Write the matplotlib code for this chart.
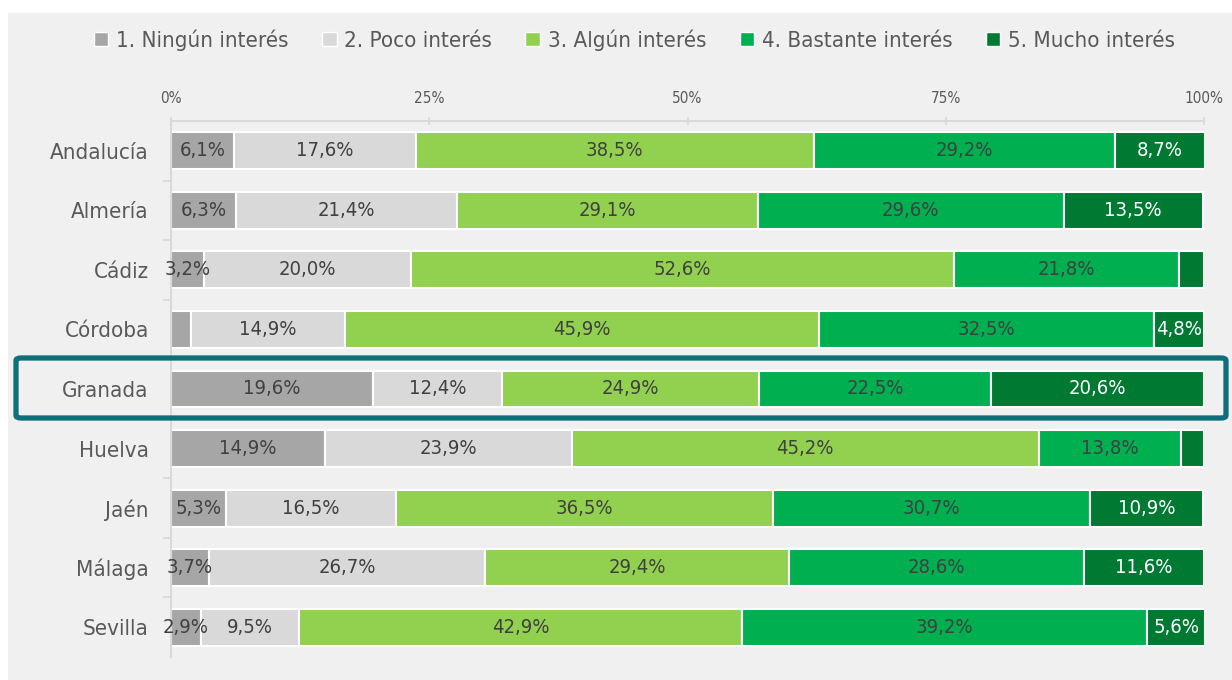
import numpy as np
import matplotlib.pyplot as plt
from matplotlib.patches import Patch, Rectangle, FancyBboxPatch

plt.rcParams['font.family'] = ['DejaVu Sans']
plt.rcParams['font.stretch'] = 'condensed'

regions = ["Andalucía", "Almería", "Cádiz", "Córdoba", "Granada",
           "Huelva", "Jaén", "Málaga", "Sevilla"]
series = ["1. Ningún interés", "2. Poco interés", "3. Algún interés",
          "4. Bastante interés", "5. Mucho interés"]
ningun   = [6.1, 6.3, 3.2, 1.9, 19.6, 14.9, 5.3, 3.7, 2.9]
poco     = [17.6, 21.4, 20.0, 14.9, 12.4, 23.9, 16.5, 26.7, 9.5]
algun    = [38.5, 29.1, 52.6, 45.9, 24.9, 45.2, 36.5, 29.4, 42.9]
bastante = [29.2, 29.6, 21.8, 32.5, 22.5, 13.8, 30.7, 28.6, 39.2]
mucho    = [8.7, 13.5, 2.4, 4.8, 20.6, 2.2, 10.9, 11.6, 5.6]

colors = ["#a6a6a6", "#d9d9d9", "#92d050", "#00b050", "#007a33"]
text_colors = ["#404040", "#404040", "#404040", "#404040", "white"]
bg = "#f0f0f0"

fig = plt.figure(figsize=(12.32, 6.8), dpi=100, facecolor="white")
fig.patches.append(Rectangle((8 / 1232, 0), 1 - 8 / 1232, 1 - 13 / 680,
                             transform=fig.transFigure, facecolor=bg,
                             edgecolor="none", zorder=-10))
ax = fig.add_axes([171 / 1232, 1 - 657 / 680, (1204 - 171) / 1232, (657 - 121) / 680])
ax.set_facecolor("none")

data = np.array([ningun, poco, algun, bastante, mucho])
y = np.arange(len(regions))
left = np.zeros(len(regions))
for i, vals in enumerate(data):
    ax.barh(y, vals, left=left, height=0.62, color=colors[i],
            edgecolor="white", linewidth=1.5, zorder=2)
    for j, v in enumerate(vals):
        if v >= 2.5:
            ax.text(left[j] + v / 2, y[j], ("%.1f%%" % v).replace(".", ","),
                    ha="center", va="center", fontsize=14.5,
                    color=text_colors[i], zorder=3)
    left += vals

ax.set_xlim(0, 100)
ax.set_ylim(len(regions) - 0.5, -0.5)
ax.xaxis.tick_top()
ax.set_xticks([0, 25, 50, 75, 100])
ax.set_xticklabels(["0%", "25%", "50%", "75%", "100%"])
ax.tick_params(axis="x", colors="#d9d9d9", labelcolor="#595959",
               labelsize=11, length=6, direction="inout", width=1.2, pad=8)
ax.set_yticks(y)
ax.set_yticklabels(regions)
ax.set_yticks(np.arange(len(regions) - 1) + 0.5, minor=True)
ax.tick_params(axis="y", which="major", length=0, labelsize=16,
               labelcolor="#595959", pad=16)
ax.tick_params(axis="y", which="minor", length=6, color="#d9d9d9", width=1.2)
for s in ["right", "bottom"]:
    ax.spines[s].set_visible(False)
ax.spines["top"].set_color("#d9d9d9")
ax.spines["top"].set_linewidth(1.5)
ax.spines["left"].set_color("#d9d9d9")
ax.spines["left"].set_linewidth(1.5)

# highlight Granada
box = FancyBboxPatch((16 / 1232, 1 - 418 / 680), (1226 - 16) / 1232, 60 / 680,
                     boxstyle="round,pad=0,rounding_size=0.004",
                     transform=fig.transFigure, facecolor="none",
                     edgecolor="#0e6f78", linewidth=3.8, zorder=5)
fig.patches.append(box)

handles = [Patch(facecolor=c, edgecolor="white", linewidth=1) for c in colors]
fig.legend(handles, series, loc="center", bbox_to_anchor=(0.515, 1 - 40 / 680),
           ncol=5, frameon=False, fontsize=16, labelcolor="#595959",
           handlelength=0.65, handleheight=0.65, handletextpad=0.35,
           columnspacing=1.5)

fig.savefig("out.png", dpi=100, facecolor=fig.get_facecolor())
